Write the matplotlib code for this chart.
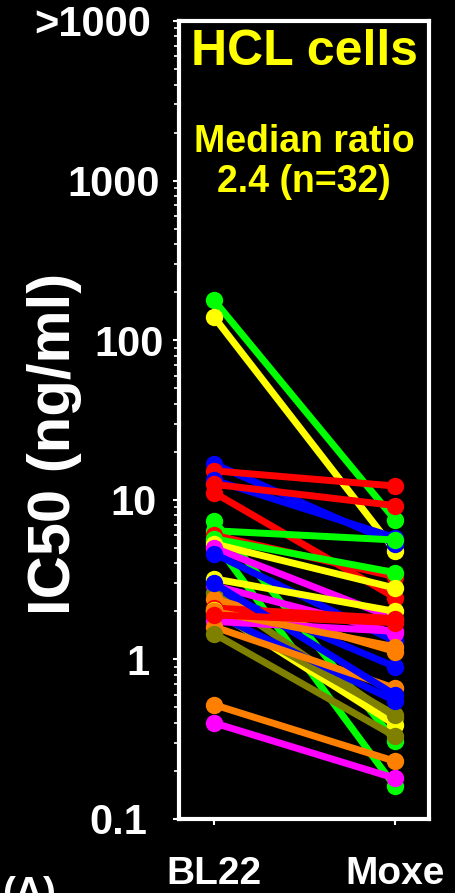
import matplotlib
matplotlib.use("Agg")
import matplotlib.pyplot as plt
import matplotlib.transforms as mtransforms
from matplotlib.ticker import LogLocator, FixedLocator, NullFormatter

# ---- data ----
groups = ["BL22", "Moxe"]
colors = ["green", "yellow", "blue", "red", "blue", "red", "red", "green",
          "green", "red", "green", "green", "yellow", "magenta", "blue", "yellow",
          "magenta", "blue", "olive", "orange", "red", "yellow", "olive", "blue",
          "magenta", "orange", "olive", "orange", "magenta", "blue", "orange", "red"]
bl22 = [178, 140, 16.8, 15.2, 13.3, 12.5, 11.1, 7.4,
        6.4, 6.0, 5.7, 5.5, 5.3, 5.0, 4.6, 3.2,
        2.9, 2.7, 2.6, 2.4, 2.1, 2.05, 2.0, 1.94,
        1.73, 1.6, 1.45, 0.52, 0.40, 3.0, 2.0, 1.9]
moxe = [7.5, 4.8, 5.3, 12.2, 5.8, 9.2, 2.44, 0.31,
        5.6, 3.3, 3.5, 0.16, 2.8, 1.8, 1.3, 2.0,
        1.47, 0.9, 0.43, 1.12, 1.8, 0.39, 0.45, 0.55,
        1.5, 0.66, 0.33, 0.23, 0.18, 0.6, 1.2, 1.7]
ytick_vals = [0.1, 1, 10, 100, 1000, 10000]
ytick_labels = ["0.1", "1", "10", "100", "1000", ">1000"]

color_map = {"green": "#00FF00", "yellow": "#FFFF00", "blue": "#0000FF",
             "red": "#FF0000", "magenta": "#FF00FF", "orange": "#FF8000",
             "olive": "#808000"}

plt.rcParams['font.family'] = ['Liberation Sans', 'DejaVu Sans']
plt.rcParams['font.weight'] = 'bold'

fig = plt.figure(figsize=(4.55, 8.93), dpi=100, facecolor='black')
ax = fig.add_axes([179/455, 1 - 819/893, 250/455, 798/893], facecolor='black')

xs = list(range(len(groups)))
for c, a, b in zip(colors, bl22, moxe):
    ax.plot(xs, [a, b], color=color_map[c], lw=5, marker='o', ms=12.5,
            markeredgewidth=0, solid_capstyle='round', zorder=3)

ax.set_yscale('log')
ax.set_ylim(0.1, 10000)
ax.set_xlim(-0.193, 1.188)

ax.yaxis.set_major_locator(FixedLocator(ytick_vals))
ax.set_yticklabels(ytick_labels)
ax.yaxis.set_minor_locator(LogLocator(base=10, subs=range(2, 10)))
ax.yaxis.set_minor_formatter(NullFormatter())
ax.set_xticks(xs)
ax.set_xticklabels(groups)

for s in ax.spines.values():
    s.set_color('white')
    s.set_linewidth(3)

ax.tick_params(axis='y', which='major', colors='white', length=4.5, width=1.5,
               labelsize=30, pad=14, direction='out')
ax.tick_params(axis='y', which='minor', colors='white', length=3.5, width=1.2,
               direction='out')
ax.tick_params(axis='x', colors='white', length=4.5, width=1.5,
               labelsize=28, pad=22, direction='out')
for lab in ax.get_yticklabels() + ax.get_xticklabels():
    lab.set_fontweight('bold')
    lab.set_color('white')

# small per-label horizontal shifts (pixels) to mimic the reference alignment
shifts = {"0.1": -6, "1": -4, "10": 3, "100": 10, "1000": 7, ">1000": -2}
for lab in ax.get_yticklabels():
    dx = shifts.get(lab.get_text(), 0)
    lab.set_transform(lab.get_transform() +
                      mtransforms.ScaledTranslation(dx/100, 0, fig.dpi_scale_trans))

fig.text(55/455, 1 - 444/893, "IC50 (ng/ml)", rotation=90, color='white',
         fontsize=43, fontweight='bold', ha='center', va='center')

ax.text(0.5, 1 - (52 - 21)/798, "HCL cells", transform=ax.transAxes,
        color='#FFFF00', fontsize=36, fontweight='bold', ha='center', va='center')
ax.text(0.5, 1 - (162 - 21)/798, "Median ratio\n2.4 (n=32)", transform=ax.transAxes,
        color='#FFFF00', fontsize=27, fontweight='bold', ha='center', va='center',
        linespacing=1.15)

fig.text(0.005, 1 - 876/893, "(A)", color='white', fontsize=28,
         fontweight='bold', ha='left', va='top')

fig.savefig("out.png", dpi=100, facecolor='black')
